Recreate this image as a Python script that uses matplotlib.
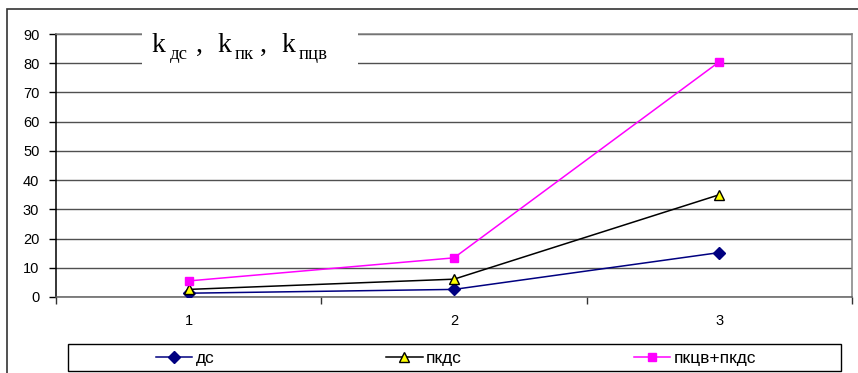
import numpy as np
import matplotlib.pyplot as plt
from matplotlib.patches import Rectangle
from matplotlib.lines import Line2D

plt.rcParams['font.family'] = ['Liberation Sans', 'DejaVu Sans']

# data
categories = [1, 2, 3]
ds = [1.3, 2.6, 15.2]
pkds = [2.6, 6.1, 35.0]
pkcv_pkds = [5.5, 13.4, 80.5]
labels = ['дс', 'пкдс', 'пкцв+пкдс']
title_parts = [('k', 'дс'), ('k', 'пк'), ('k', 'пцв')]

W, H = 858, 373
fig = plt.figure(figsize=(W / 100, H / 100), dpi=100)


def px(xp, yp):
    # pixel position (from top-left) -> figure fraction
    return xp / W, (H - yp) / H


# outer chart frame
fig.patches.append(Rectangle((7 / W, -0.05), 1.2, (H - 9) / H + 0.05,
                             transform=fig.transFigure, fill=False,
                             edgecolor='#333333', linewidth=1.2))

ax = fig.add_axes([56 / W, (H - 297) / H, (852 - 56) / W, (297 - 34) / H])
x = np.arange(len(categories)) + 1

ax.plot(x, ds, color='#000080', marker='D', markersize=6, linewidth=1.1,
        markerfacecolor='#000080', markeredgecolor='#000080', zorder=5)
ax.plot(x, pkds, color='black', marker='^', markersize=7, linewidth=1.1,
        markerfacecolor='#ffff00', markeredgecolor='black', zorder=5)
ax.plot(x, pkcv_pkds, color='#ff00ff', marker='s', markersize=6, linewidth=1.1,
        markerfacecolor='#ff00ff', markeredgecolor='#ff00ff', zorder=5)

ax.set_xlim(0.5, 3.5)
ax.set_ylim(0, 90)
ax.set_yticks(np.arange(0, 91, 10))
ax.set_xticks(x)
ax.set_xticklabels([str(c) for c in categories])
ax.set_xticks(np.arange(0.5, 3.6, 1), minor=True)
ax.tick_params(axis='x', which='major', length=0, pad=12, labelsize=10.5)
ax.tick_params(axis='x', which='minor', length=5, width=1, color='#333333')
ax.tick_params(axis='y', length=5, width=1, pad=7, labelsize=10.5)
ax.grid(axis='y', color='#505050', linewidth=1)
ax.set_axisbelow(True)
for side in ['top', 'right']:
    ax.spines[side].set_color('#808080')
ax.spines['bottom'].set_color('#606060')
ax.spines['left'].set_color('black')
for sp in ax.spines.values():
    sp.set_linewidth(1.1)

# title box over the gridlines
fig.patches.append(Rectangle(px(142, 72), (358 - 142) / W, 46 / H,
                             transform=fig.transFigure, facecolor='white',
                             edgecolor='none', zorder=3))
serif = 'Liberation Serif'
k_x = [152, 217, 281]
sub_x = [170, 235, 299]
comma_x = [196, 260]
for i, (k, sub) in enumerate(title_parts):
    fig.text(*px(k_x[i], 52), k, family=serif, fontsize=20,
             ha='left', va='baseline', zorder=4)
    fig.text(*px(sub_x[i], 59), sub, family=serif, fontsize=13.5,
             ha='left', va='baseline', zorder=4)
    if i < 2:
        fig.text(*px(comma_x[i], 52), ',', family=serif, fontsize=20,
                 ha='left', va='baseline', zorder=4)

# legend
fig.patches.append(Rectangle(px(68, 371), (841 - 68) / W, 27 / H,
                             transform=fig.transFigure, facecolor='white',
                             edgecolor='black', linewidth=1, zorder=3))
handles = [
    Line2D([], [], color='#000080', marker='D', markersize=6,
           markerfacecolor='#000080', linewidth=1.1),
    Line2D([], [], color='black', marker='^', markersize=7,
           markerfacecolor='#ffff00', markeredgecolor='black', linewidth=1.1),
    Line2D([], [], color='#ff00ff', marker='s', markersize=6,
           markerfacecolor='#ff00ff', linewidth=1.1),
]
leg = fig.legend(handles, labels, ncol=3, loc='center',
                 bbox_to_anchor=px(456, 358), frameon=False,
                 fontsize=12.5, handlelength=2.1, handletextpad=0.2,
                 columnspacing=9.9, borderpad=0)
leg.set_zorder(4)

fig.savefig('out.png', dpi=100)
